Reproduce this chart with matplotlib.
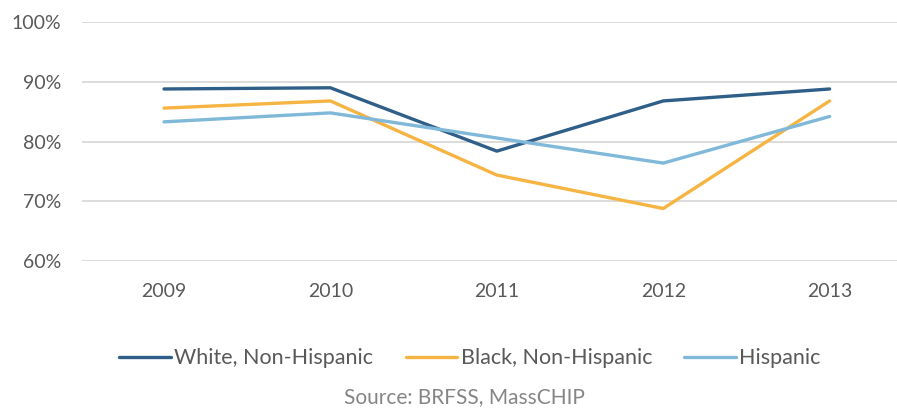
import matplotlib
matplotlib.use("Agg")
import matplotlib.pyplot as plt
from matplotlib.ticker import FuncFormatter

years = ["2009", "2010", "2011", "2012", "2013"]
white = [88.8, 89.0, 78.4, 86.8, 88.8]
black = [85.6, 86.8, 74.4, 68.8, 86.8]
hispanic = [83.3, 84.8, 80.6, 76.4, 84.2]

series_names = ["White, Non-Hispanic", "Black, Non-Hispanic", "Hispanic"]
colors = ["#2f5f88", "#f6b443", "#80b8d9"]

plt.rcParams['font.family'] = ['Lato', 'DejaVu Sans']

fig = plt.figure(figsize=(8.97, 4.08), dpi=100)
ax = fig.add_axes([0.0914, 0.36, 0.9086, 0.586])

x = range(len(years))
for vals, name, c in zip([white, black, hispanic], series_names, colors):
    ax.plot(x, vals, color=c, lw=2.4, label=name, solid_capstyle='round')

ax.set_ylim(60, 100)
ax.set_yticks([60, 70, 80, 90, 100])
ax.yaxis.set_major_formatter(FuncFormatter(lambda v, p: f"{v:.0f}%"))
ax.set_xticks(list(x))
ax.set_xticklabels(years)
ax.set_xlim(-0.493, 4.405)

ax.grid(axis='y', color='#d9d9d9', lw=1.3)
ax.set_axisbelow(True)
for s in ax.spines.values():
    s.set_visible(False)
ax.tick_params(axis='both', length=0, labelsize=14, colors='#595959')
ax.tick_params(axis='y', pad=15)
ax.tick_params(axis='x', pad=16)

fig.legend(loc='center', bbox_to_anchor=(0.524, 0.122), ncol=3, frameon=False,
           fontsize=15.5, handlelength=2.4, handletextpad=0.15, columnspacing=1.5,
           labelcolor='#595959')

fig.text(0.518, 0.027, "Source: BRFSS, MassCHIP", ha='center', va='center',
         fontsize=15, color='#858585')

fig.savefig("out.png", dpi=100)
